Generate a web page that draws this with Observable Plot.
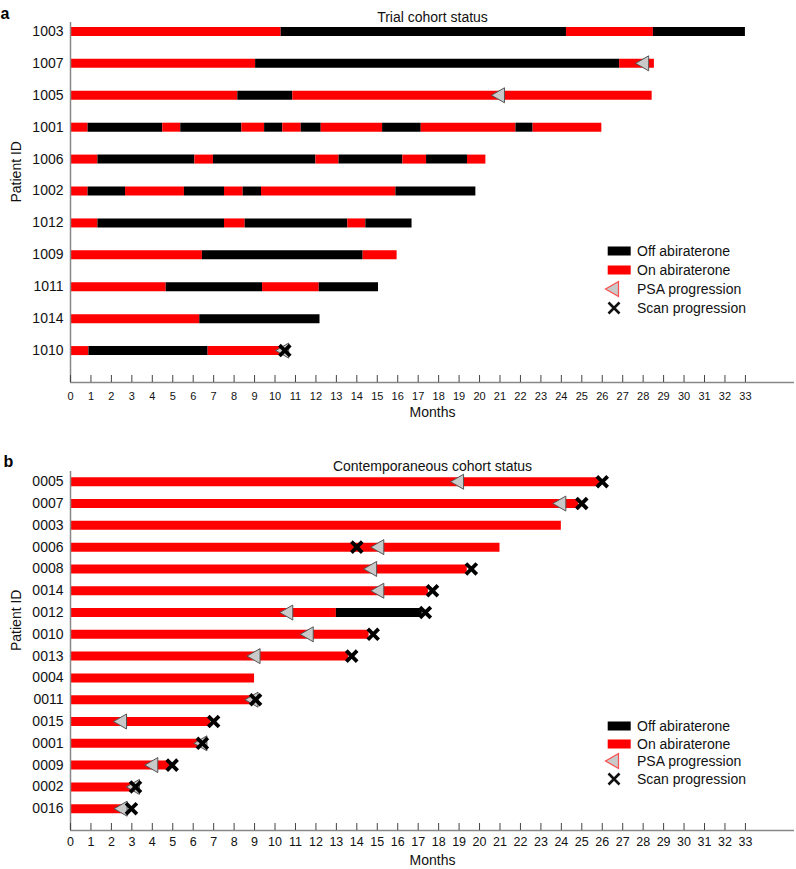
<!DOCTYPE html>
<html><head><meta charset="utf-8">
<script src="https://cdn.jsdelivr.net/npm/d3@7"></script>
<script src="https://cdn.jsdelivr.net/npm/@observablehq/plot@0.6"></script>
<style>
body{margin:0;background:#fff;font-family:"Liberation Sans",Arial,Helvetica,sans-serif;}
#wrap{position:relative;width:796px;height:869px;overflow:hidden;}
.panel{position:absolute;left:0;}
.lrow{position:absolute;left:600px;height:20px;font-size:14px;line-height:20px;color:#111;white-space:nowrap;}
.lrow svg{position:absolute;left:0;top:0;}
.lrow span{position:absolute;left:37px;top:0;}
</style></head><body>
<div id="wrap">
  <div id="pa" class="panel" style="top:0"></div>
  <div id="pb" class="panel" style="top:430px"></div>
</div>
<script>
// ---------- data ----------
const trialIds = ["1003","1007","1005","1001","1006","1002","1012","1009","1011","1014","1010"];
// cumulative month boundaries; segments alternate On, Off, On, ... starting at 0
const trialBreaks = [
  [10.3, 24.25, 28.5, 33.0],
  [9.05, 26.85, 28.55],
  [8.18, 10.87, 28.44],
  [0.86, 4.51, 5.39, 8.38, 9.49, 10.38, 11.28, 12.26, 15.26, 17.15, 21.78, 22.62, 25.98],
  [1.34, 6.08, 6.99, 12.0, 13.13, 16.25, 17.41, 19.41, 20.31],
  [0.86, 2.69, 5.57, 7.53, 8.44, 9.34, 15.91, 19.82],
  [1.34, 7.53, 8.54, 13.56, 14.44, 16.7],
  [6.45, 14.31, 15.97],
  [4.68, 9.39, 12.16, 15.06],
  [6.32, 12.2],
  [0.9, 6.73, 10.27]
];
const trialPsaIds = ["1007","1005","1010"];
const trialPsaMonths = [27.95, 20.9, 10.35];
const trialScanIds = ["1010"];
const trialScanMonths = [10.48];

const contIds = ["0005","0007","0003","0006","0008","0014","0012","0010","0013","0004","0011","0015","0001","0009","0002","0016"];
const contBreaks = [[25.9],[24.85],[24.0],[21.0],[19.4],[17.5],[13.0,17.2],[14.6],[13.6],[9.0],[8.9],[6.85],[6.35],[4.85],[3.05],[2.75]];
const contPsaIds = ["0005","0007","0006","0008","0014","0012","0010","0013","0011","0015","0001","0009","0002","0016"];
const contPsaMonths = [18.9, 23.9, 15.0, 14.65, 15.0, 10.55, 11.55, 8.95, 8.85, 2.42, 6.35, 3.95, 3.05, 2.45];
const contScanIds = ["0005","0007","0006","0008","0014","0012","0010","0013","0011","0015","0001","0009","0002","0016"];
const contScanMonths = [26.0, 25.0, 14.0, 19.6, 17.7, 17.35, 14.8, 13.75, 9.05, 7.0, 6.45, 4.97, 3.18, 2.98];

const monthTicks = d3.range(0, 34);
const statusLabels = ["Off abiraterone", "On abiraterone"];
const legendLabels = ["Off abiraterone", "On abiraterone", "PSA progression", "Scan progression"];
const titles = ["Trial cohort status", "Contemporaneous cohort status"];

// ---------- helpers ----------
function segmentsOf(ids, breaks) {
  const out = [];
  ids.forEach((id, i) => {
    let start = 0, on = true;
    for (const end of breaks[i]) {
      out.push({row: i, id, x1: start, x2: end, status: on ? statusLabels[1] : statusLabels[0]});
      start = end; on = !on;
    }
  });
  return out;
}
function eventsOf(ids, allIds, months) {
  return ids.map((id, i) => ({row: allIds.indexOf(id), id, month: months[i]}));
}
const leftTriangle = {
  draw(ctx, size) {
    const r = Math.sqrt(size / Math.PI);
    const w = r * 0.87;
    ctx.moveTo(-w, 0); ctx.lineTo(w, -r); ctx.lineTo(w, r); ctx.closePath();
  }
};
const FONT = "Liberation Sans, Arial, Helvetica, sans-serif";

function panel({ids, breaks, psa, scan, letter, title, height, mt, mb, yTopPad, tickFont, tickPad, letterDx, letterDy}) {
  const n = ids.length;
  const segs = segmentsOf(ids, breaks);
  const frameH = height - mt - mb;
  return Plot.plot({
    width: 796, height, marginTop: mt, marginBottom: mb, marginLeft: 70, marginRight: 2,
    style: {fontFamily: FONT, background: "#fff", color: "#111", overflow: "visible"},
    x: {domain: [0, 35.4]},
    y: {domain: [-yTopPad, n], reverse: true},
    color: {domain: statusLabels, range: ["#000000", "#ff0000"]},
    marks: [
      Plot.ruleY(segs, {x1: "x1", x2: "x2", y: "row", stroke: "status", strokeWidth: 9}),
      Plot.dot(psa, {x: "month", y: "row", r: 7.5, symbol: leftTriangle, fill: "#c9c9c9", stroke: "#555", strokeWidth: 1}),
      Plot.dot(scan, {x: "month", y: "row", r: 5, symbol: "times", stroke: "#000", strokeWidth: 3.8}),
      Plot.ruleX([0], {stroke: "#888", strokeWidth: 1.5}),
      Plot.ruleY([n], {stroke: "#888", strokeWidth: 1.5}),
      Plot.tickX(monthTicks, {x: d => d, insetTop: frameH - 7, stroke: "#444", strokeWidth: 1}),
      Plot.axisX({ticks: monthTicks, tickSize: 0, tickPadding: tickPad, fontSize: tickFont, label: null, tickFormat: d => String(d)}),
      Plot.axisY({ticks: d3.range(n), tickSize: 0, tickPadding: 7, fontSize: 14, label: null, tickFormat: i => ids[i]}),
      Plot.text([title], {text: d => d, frameAnchor: "top", dy: -10, fontSize: 14, fill: "#111"}),
      Plot.text(["Months"], {text: d => d, frameAnchor: "bottom", dy: 34, fontSize: 14, fill: "#111"}),
      Plot.text(["Patient ID"], {text: d => d, frameAnchor: "left", dx: -54, rotate: -90, fontSize: 14, fill: "#111"}),
      Plot.text([letter], {text: d => d, frameAnchor: "top-left", dx: letterDx, dy: letterDy, textAnchor: "start", fontSize: 16, fontWeight: "bold", fill: "#000"})
    ]
  });
}

document.getElementById("pa").append(panel({
  ids: trialIds, breaks: trialBreaks,
  psa: eventsOf(trialPsaIds, trialIds, trialPsaMonths),
  scan: eventsOf(trialScanIds, trialIds, trialScanMonths),
  letter: "a", title: titles[0], height: 430, mt: 22, mb: 48, yTopPad: 0.28,
  tickFont: 11, tickPad: 10, letterDx: -70, letterDy: -15
}));
document.getElementById("pb").append(panel({
  ids: contIds, breaks: contBreaks,
  psa: eventsOf(contPsaIds, contIds, contPsaMonths),
  scan: eventsOf(contScanIds, contIds, contScanMonths),
  letter: "b", title: titles[1], height: 439, mt: 41, mb: 39, yTopPad: 0.47,
  tickFont: 12.5, tickPad: 7, letterDx: -67, letterDy: -16
}));

// ---------- legends (HTML) ----------
function legend(centers) {
  const wrap = document.getElementById("wrap");
  legendLabels.forEach((label, i) => {
    const row = document.createElement("div");
    row.className = "lrow";
    row.style.top = (centers[i] - 10) + "px";
    const svg = d3.create("svg").attr("width", 36).attr("height", 20);
    if (i < 2) {
      svg.append("rect").attr("x", 7.7).attr("y", 5.5).attr("width", 23).attr("height", 9)
        .attr("fill", i === 0 ? "#000" : "#ff0000");
    } else if (i === 2) {
      svg.append("path").attr("d", "M5.5,10L18.5,2.5L18.5,17.5Z")
        .attr("fill", "#c9c9c9").attr("stroke", "#ff4d4d").attr("stroke-width", 1.2);
    } else {
      svg.append("path").attr("d", "M8.5,4.5L19.5,15.5M8.5,15.5L19.5,4.5")
        .attr("stroke", "#111").attr("stroke-width", 2.6);
    }
    row.append(svg.node());
    const span = document.createElement("span");
    span.textContent = label;
    row.append(span);
    wrap.append(row);
  });
}
legend([251, 270, 289, 308]);
legend([726, 743.7, 761, 778.7]);
</script>
</body></html>
